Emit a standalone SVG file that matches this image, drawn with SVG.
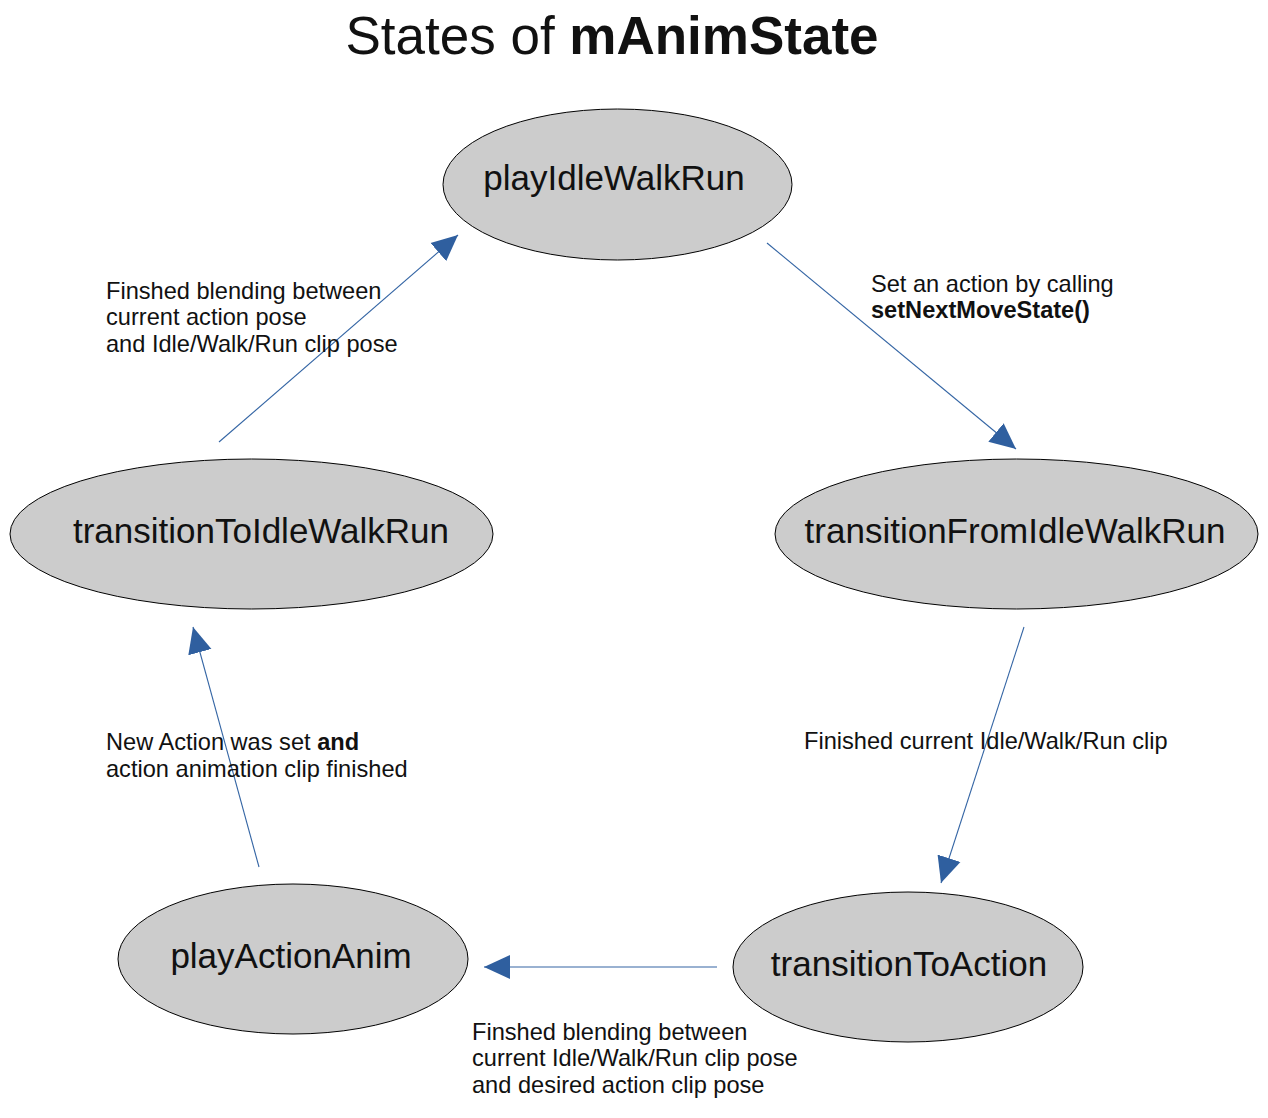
<svg xmlns="http://www.w3.org/2000/svg" width="1268" height="1118" viewBox="0 0 1268 1118">
<style>
.node{fill:#cccccc;stroke:#000;stroke-width:1}
.nl{font-family:"Liberation Sans",Arial,sans-serif;font-size:35px;fill:#111;text-anchor:middle}
.lb{font-family:"Liberation Sans",Arial,sans-serif;font-size:23.6px;fill:#111}
.edge{stroke:#3465a4;stroke-width:1.1;fill:none;marker-end:url(#ah)}
</style>
<defs>
<marker id="ah" markerUnits="userSpaceOnUse" markerWidth="26" markerHeight="26" refX="26" refY="12" orient="auto" viewBox="0 0 26 24">
<path d="M0,0 L26,12 L0,24 z" fill="#2f5f9f"/>
</marker>
</defs>
<rect width="1268" height="1118" fill="#fff"/>
<text x="612" y="54" text-anchor="middle" font-family="'Liberation Sans',Arial,sans-serif" font-size="53" fill="#111">States of <tspan font-weight="bold">mAnimState</tspan></text>
<g id="connectors">
<line class="edge" x1="219" y1="442" x2="458" y2="235"/>
<line class="edge" x1="767" y1="243" x2="1016" y2="449"/>
<line class="edge" x1="1024" y1="627" x2="941" y2="883"/>
<line class="edge" x1="717" y1="967" x2="484" y2="967"/>
<line class="edge" x1="259" y1="867" x2="193" y2="627"/>
</g>
<g id="playIdleWalkRun">
<ellipse class="node" cx="617.5" cy="184.5" rx="174.5" ry="75.5"/>
<text class="nl" x="614" y="190">playIdleWalkRun</text>
</g>
<g id="transitionToIdleWalkRun">
<ellipse class="node" cx="251.5" cy="534" rx="241.5" ry="75"/>
<text class="nl" x="261" y="543">transitionToIdleWalkRun</text>
</g>
<g id="transitionFromIdleWalkRun">
<ellipse class="node" cx="1016.5" cy="534" rx="241.5" ry="75"/>
<text class="nl" x="1015" y="543">transitionFromIdleWalkRun</text>
</g>
<g id="playActionAnim">
<ellipse class="node" cx="293" cy="959" rx="175" ry="75"/>
<text class="nl" x="291" y="968">playActionAnim</text>
</g>
<g id="transitionToAction">
<ellipse class="node" cx="908" cy="967" rx="175" ry="75"/>
<text class="nl" x="909" y="976">transitionToAction</text>
</g>
<g id="labels">
<text class="lb" x="106" y="299">Finshed blending between</text>
<text class="lb" x="106" y="325">current action pose</text>
<text class="lb" x="106" y="352">and Idle/Walk/Run clip pose</text>
<text class="lb" x="871" y="292">Set an action by calling</text>
<text class="lb" x="871" y="318" font-weight="bold">setNextMoveState()</text>
<text class="lb" x="804" y="749">Finished current Idle/Walk/Run clip</text>
<text class="lb" x="106" y="750">New Action was set <tspan font-weight="bold">and</tspan></text>
<text class="lb" x="106" y="777">action animation clip finished</text>
<text class="lb" x="472" y="1040">Finshed blending between</text>
<text class="lb" x="472" y="1066">current Idle/Walk/Run clip pose</text>
<text class="lb" x="472" y="1093">and desired action clip pose</text>
</g>
</svg>
